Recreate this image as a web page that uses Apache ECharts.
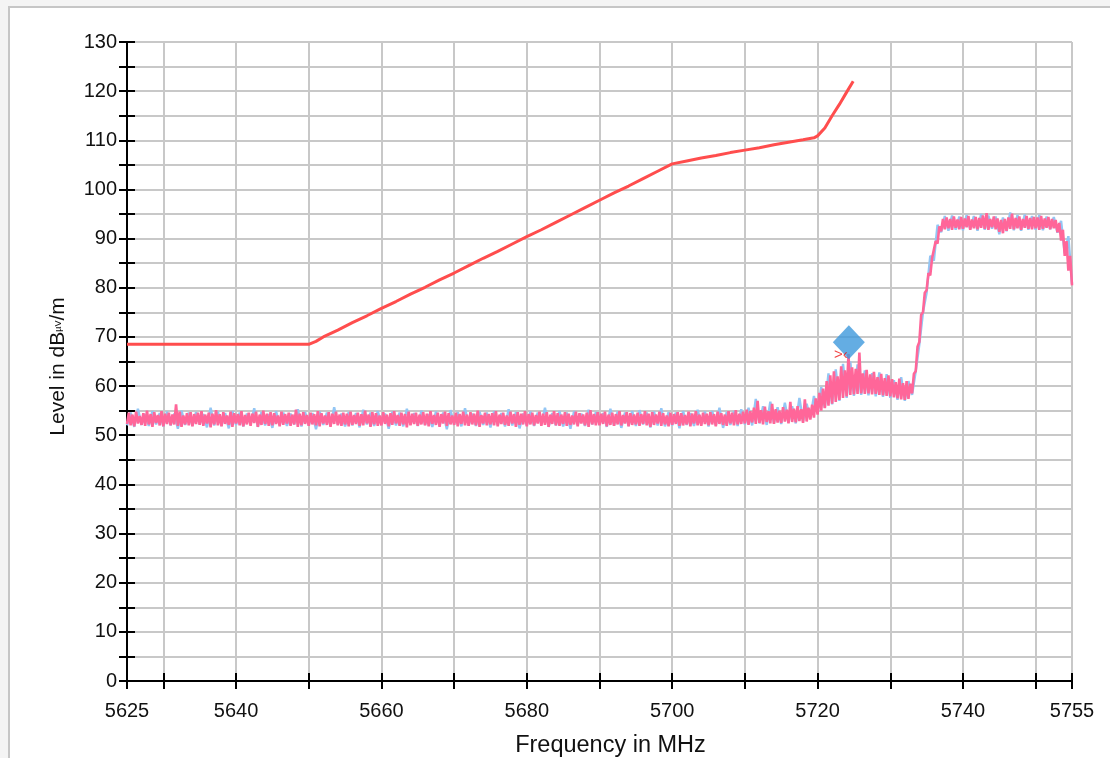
<!DOCTYPE html>
<html>
<head>
<meta charset="utf-8">
<script src="https://cdn.jsdelivr.net/npm/echarts/dist/echarts.min.js"></script>
<style>
  html, body { margin: 0; padding: 0; width: 1110px; height: 758px; overflow: hidden; background: #f4f4f4; }
  #frame { position: absolute; left: 8px; top: 6px; width: 1200px; height: 900px; border: 2px solid #c6c6c6; background: #ffffff; }
  #chart { position: absolute; left: 0; top: 0; width: 1110px; height: 758px; }
</style>
</head>
<body>
<div id="frame"></div>
<div id="chart"></div>
<script>
// ---------------- data ----------------
const FREQ_START = 5625;
const FREQ_END = 5755;

// Pink trace (on top), sampled every 0.25 MHz from 5625 MHz
const PINK_STEP = 0.25;
const pinkLevels = [
  52.3,54.6,52.0,54.2,51.8,54.8,52.4,53.9,52.1,54.5,51.9,55.0,52.2,54.3,51.7,54.7,52.5,54.1,52.0,54.9,
  51.8,54.4,52.3,54.6,52.0,54.2,52.2,56.3,51.9,54.8,51.7,54.0,52.2,54.5,52.0,54.7,51.8,54.3,52.3,54.6,
  52.1,54.9,51.9,54.2,52.4,54.6,51.6,54.4,52.2,55.1,52.0,54.3,51.8,54.7,52.3,54.0,52.1,54.8,51.7,54.5,
  52.4,54.3,52.0,54.9,51.8,54.1,52.2,54.6,51.9,54.4,52.5,54.8,51.7,54.2,52.1,55.0,52.3,54.4,51.9,54.7,
  52.0,54.5,52.3,54.0,51.8,54.8,52.1,54.3,52.4,54.6,51.9,54.2,52.2,55.2,51.7,54.4,52.0,54.7,52.3,54.1,
  51.9,54.6,52.2,54.3,52.0,54.9,51.8,54.5,52.4,54.0,52.1,54.7,51.7,54.4,52.3,54.8,52.0,54.2,51.9,54.6,
  52.2,54.4,51.8,54.8,52.1,54.1,52.3,54.6,51.9,54.3,52.0,55.0,52.4,54.2,51.7,54.7,52.2,54.5,51.9,54.0,
  52.0,54.7,52.3,54.2,51.8,54.5,52.1,54.9,52.4,54.1,51.9,54.6,52.2,54.3,51.6,54.8,52.0,54.4,52.3,54.6,
  51.9,54.2,52.2,54.7,52.0,54.4,51.8,54.9,52.3,54.1,52.1,54.6,51.7,54.3,52.4,54.8,51.9,54.5,52.2,54.0,
  52.1,54.6,51.8,54.3,52.3,54.8,52.0,54.2,51.9,54.7,52.2,54.4,52.0,55.0,51.7,54.1,52.4,54.6,52.0,54.3,
  52.2,54.5,52.0,54.9,51.8,54.2,52.3,54.6,52.1,54.0,51.9,54.8,52.4,54.3,51.7,54.7,52.1,54.4,52.2,54.9,
  51.8,54.3,52.2,54.6,52.0,54.1,52.4,54.8,51.9,54.4,52.1,54.7,51.7,54.2,52.3,54.9,52.0,54.5,51.9,54.2,
  52.3,54.7,51.9,54.4,52.1,54.0,52.2,54.8,51.8,54.5,52.4,54.2,52.0,54.6,51.7,55.1,52.2,54.3,52.0,54.7,
  52.0,54.4,52.3,54.8,51.8,54.2,52.1,54.6,51.9,54.3,52.2,54.9,52.0,54.1,52.4,54.7,51.8,54.5,52.1,54.2,
  52.2,54.6,51.9,54.3,52.3,54.9,52.0,54.4,51.7,54.7,52.1,54.2,52.4,54.8,51.9,54.5,52.2,54.0,51.8,54.6,
  52.1,54.3,52.3,54.7,51.9,54.5,52.0,54.1,52.2,54.8,51.8,54.4,52.4,54.9,52.0,54.2,51.9,54.6,52.3,54.4,
  52.0,54.7,52.2,54.3,51.8,54.8,52.3,54.5,52.1,54.2,51.9,54.9,52.4,54.6,52.0,55.1,52.2,54.4,52.3,54.8,
  52.4,55.2,52.1,54.9,52.6,55.6,52.3,57.0,52.5,55.1,52.2,55.8,52.7,54.9,52.4,56.4,52.3,55.3,52.6,55.0,
  52.5,55.7,52.8,55.2,52.4,56.8,52.7,55.4,52.6,55.9,52.9,55.3,52.5,57.3,52.8,55.6,53.2,56.2,53.6,57.5,
  54.2,58.6,55.0,59.5,55.5,61.0,56.0,62.2,56.4,63.0,56.8,62.0,57.2,64.0,57.6,63.2,57.9,66.5,58.2,63.8,
  58.3,63.5,58.4,66.8,58.5,62.6,58.4,63.3,58.5,62.4,58.3,62.9,58.4,61.8,58.2,62.5,58.1,61.6,58.0,62.2,
  57.9,61.4,57.7,60.8,57.5,61.5,57.3,60.6,57.2,61.0,57.4,60.5,58.5,62.5,63.0,68.0,69.0,74.5,75.0,79.0,
  79.5,83.0,82.5,86.0,86.0,89.5,89.0,92.5,91.5,94.0,91.9,94.3,92.1,94.0,91.8,94.5,92.2,93.9,91.9,94.4,
  92.0,94.1,92.3,94.6,91.8,93.9,92.1,94.4,91.9,94.2,92.2,94.7,92.0,95.2,91.8,94.0,92.3,94.5,91.9,94.1,
  91.4,93.8,91.1,94.0,91.6,94.3,92.0,95.1,91.9,94.2,92.1,94.5,91.8,94.0,92.2,94.6,92.0,94.2,91.9,94.4,
  92.1,94.3,91.8,94.6,92.0,94.1,92.2,94.4,91.9,94.0,92.1,93.8,91.3,93.2,89.6,91.8,86.5,89.5,83.5,86.5,
  80.5
];

// Light-blue trace (underneath), sampled every 0.5 MHz from 5625 MHz
const BLUE_STEP = 0.5;
const blueLevels = [
  52.0,54.6,51.7,55.4,52.1,54.3,51.9,54.9,52.2,54.5,
  51.8,54.8,52.0,54.4,51.3,55.0,52.1,54.6,51.9,54.7,
  52.2,54.3,51.6,55.6,52.0,54.8,51.9,54.5,51.4,54.9,
  52.1,54.6,51.8,54.4,52.2,55.5,51.7,54.7,52.0,54.3,
  51.5,54.9,52.1,54.6,51.9,54.4,52.2,55.3,51.8,54.7,
  52.0,54.5,51.2,54.8,52.1,54.6,51.9,55.7,52.2,54.4,
  51.8,54.7,52.0,54.5,51.6,55.2,52.2,54.6,51.9,54.9,
  52.1,54.4,51.3,54.8,52.0,54.6,51.8,55.4,52.2,54.5,
  51.9,55.0,52.1,54.3,51.7,54.8,52.0,54.6,51.2,55.1,
  52.2,54.7,51.8,55.5,52.0,54.4,51.9,54.8,52.1,54.6,
  51.6,54.9,52.1,54.5,51.8,55.3,52.0,54.7,51.4,54.4,
  52.0,54.8,51.9,54.6,52.2,55.6,51.7,54.5,52.0,54.9,
  51.8,54.6,51.3,54.9,52.1,54.4,51.9,55.2,52.2,54.7,
  52.1,54.5,51.7,55.4,52.0,54.8,51.5,54.6,51.9,54.9,
  51.9,55.1,52.2,54.6,51.6,54.8,52.0,55.5,51.8,54.7,
  52.0,54.6,51.4,54.9,52.1,54.5,51.9,55.2,52.2,54.8,
  51.8,54.9,52.0,55.6,51.5,54.7,52.1,54.9,51.9,55.3,
  52.2,55.6,52.0,57.4,52.4,55.9,52.1,56.8,52.5,55.7,
  52.3,56.6,52.6,55.9,52.4,57.6,52.8,56.4,53.4,58.0,
  54.5,59.8,55.6,62.6,56.3,63.4,57.0,64.5,57.6,65.0,
  58.0,64.4,58.2,63.2,58.1,62.6,57.9,62.8,57.8,62.4,
  57.6,61.2,57.2,61.8,57.0,61.0,58.2,63.0,68.5,75.0,
  79.0,86.5,85.5,92.8,91.3,94.6,91.6,94.7,91.8,94.5,
  91.7,94.8,91.9,94.6,91.6,95.0,91.8,94.7,92.0,94.5,
  90.9,94.3,91.5,95.3,91.7,94.8,91.6,94.9,91.8,94.6,
  91.8,94.8,91.7,94.5,91.9,94.4,91.2,93.6,87.0,90.5,
  80.8
];

// Limit line (red)
const limitFreqs  = [5625, 5650, 5651, 5652, 5654, 5656, 5658, 5660, 5662, 5664, 5666, 5668, 5670, 5672, 5674, 5676, 5678, 5680, 5682, 5684, 5686, 5688, 5690, 5692, 5694, 5696, 5698, 5700, 5702, 5704, 5706, 5708, 5710, 5712, 5714, 5716, 5718, 5719.5, 5720, 5721, 5722, 5723, 5724, 5724.9];
const limitLevels = [68.5, 68.5, 69.1, 70.0, 71.4, 72.9, 74.3, 75.8, 77.2, 78.7, 80.1, 81.6, 83.0, 84.5, 86.0, 87.4, 88.9, 90.4, 91.8, 93.3, 94.8, 96.3, 97.8, 99.3, 100.7, 102.2, 103.7, 105.2, 105.8, 106.4, 106.9, 107.5, 108.0, 108.5, 109.1, 109.6, 110.1, 110.5, 110.9, 112.5, 115.0, 117.3, 119.8, 122.0];

// Marker
const markerFreqs  = [5724.3];
const markerLevels = [68.9];

// Axis ticks / labels
const xTickValues  = [5625, 5630, 5640, 5650, 5660, 5670, 5680, 5690, 5700, 5710, 5720, 5730, 5740, 5750, 5755];
const xLabelValues = [5625, 5640, 5660, 5680, 5700, 5720, 5740, 5755];
const Y_MIN = 0, Y_MAX = 130, Y_STEP = 5, Y_LABEL_STEP = 10;

// ---------------- build ----------------
const pinkData = pinkLevels.map((v, i) => [FREQ_START + i * PINK_STEP, v]);
const blueData = blueLevels.map((v, i) => [FREQ_START + i * BLUE_STEP, v]);
const limitData = limitFreqs.map((f, i) => [f, limitLevels[i]]);
const markerData = markerFreqs.map((f, i) => [f, markerLevels[i]]);

const FONT = '"Liberation Sans", Arial, sans-serif';
const chart = echarts.init(document.getElementById('chart'), null, { renderer: 'canvas' });

chart.setOption({
  animation: false,
  backgroundColor: 'transparent',
  textStyle: { fontFamily: FONT },
  grid: { left: 127, right: 38, top: 42, bottom: 77, containLabel: false, outerBoundsMode: 'none' },
  xAxis: [
    {
      type: 'value', min: FREQ_START, max: FREQ_END, position: 'bottom',
      name: 'Frequency in MHz', nameLocation: 'middle', nameGap: 53,
      nameTextStyle: { fontSize: 23.5, color: '#111', fontFamily: FONT, padding: [0, 0, 0, 22] },
      axisLine: { show: true, onZero: false, lineStyle: { color: '#000', width: 2 } },
      axisTick: { show: true, customValues: xTickValues, length: 8, lineStyle: { color: '#000', width: 2 } },
      axisLabel: { customValues: xLabelValues, fontSize: 20, color: '#111', margin: 20, fontFamily: FONT,
        formatter: v => String(v) },
      splitLine: { show: true, lineStyle: { color: '#c8c8c8', width: 2 } }
    },
    {
      type: 'value', min: FREQ_START, max: FREQ_END, position: 'bottom',
      axisLine: { show: false, onZero: false },
      axisTick: { show: true, inside: true, customValues: xTickValues, length: 8, lineStyle: { color: '#000', width: 2 } },
      axisLabel: { show: false },
      splitLine: { show: false }
    }
  ],
  yAxis: [
    {
      type: 'value', min: Y_MIN, max: Y_MAX, interval: Y_STEP, position: 'left',
      name: '{a|Level in dB}{b|µV}{a|/m}', nameLocation: 'middle', nameGap: 58,
      nameTextStyle: { fontSize: 21, color: '#111', fontFamily: FONT, padding: [0, 10, 0, 0],
        rich: { a: { fontSize: 21, color: '#111', fontFamily: FONT }, b: { fontSize: 9, color: '#111', fontFamily: FONT } } },
      axisLine: { show: true, onZero: false, lineStyle: { color: '#000', width: 2 } },
      axisTick: { show: true, length: 8, lineStyle: { color: '#000', width: 2 } },
      axisLabel: { fontSize: 20, color: '#111', margin: 10, fontFamily: FONT, padding: [5, 0, 0, 0],
        formatter: v => (v % Y_LABEL_STEP === 0 ? String(v) : '') },
      splitLine: { show: true, lineStyle: { color: '#c8c8c8', width: 2 } }
    },
    {
      type: 'value', min: Y_MIN, max: Y_MAX, interval: Y_STEP, position: 'left', offset: 0,
      axisLine: { show: false, onZero: false },
      axisTick: { show: true, inside: true, length: 8, lineStyle: { color: '#000', width: 2 } },
      axisLabel: { show: false },
      splitLine: { show: false }
    }
  ],
  series: [
    {
      name: 'Trace 2', type: 'line', data: blueData, showSymbol: false, symbol: 'none',
      lineStyle: { color: '#93c6f4', width: 2.4 }, z: 2, silent: true
    },
    {
      name: 'Trace 1', type: 'line', data: pinkData, showSymbol: false, symbol: 'none',
      lineStyle: { color: '#ff6699', width: 2.6 }, z: 3, silent: true
    },
    {
      name: 'Limit', type: 'line', data: limitData, showSymbol: false, symbol: 'none',
      lineStyle: { color: '#ff4d4d', width: 3 }, z: 4, silent: true
    },
    {
      name: 'Marker', type: 'scatter', data: markerData, symbol: 'diamond', symbolSize: [32, 34],
      itemStyle: { color: '#3d99dc' }, z: 6, silent: true,
      label: { show: true, position: 'bottom', offset: [-8, -17], formatter: '>\u2039', color: '#ee1111', fontSize: 15, fontFamily: FONT }
    }
  ]
});
</script>
</body>
</html>
